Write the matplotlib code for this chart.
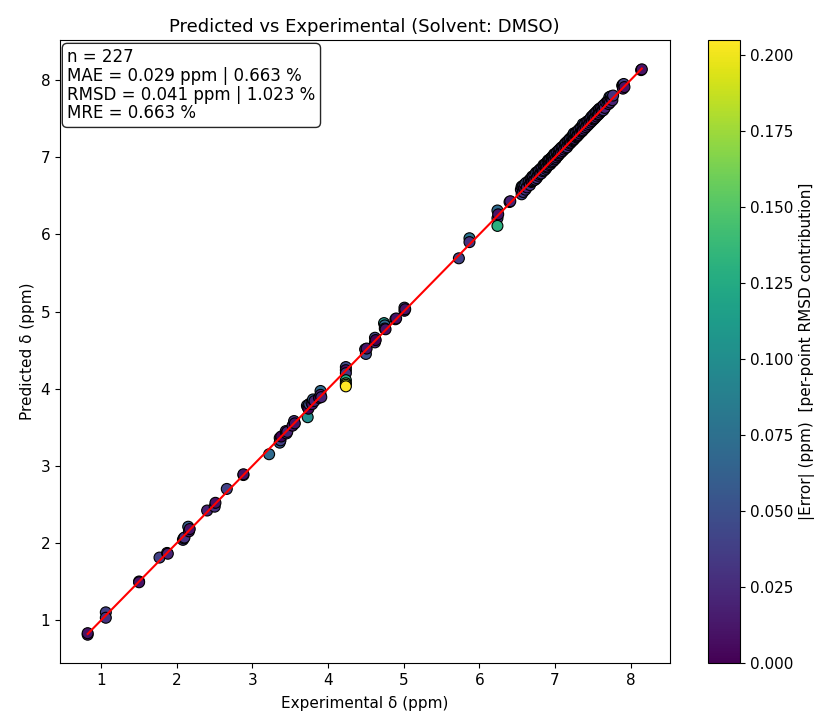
import matplotlib
matplotlib.use("Agg")
import matplotlib.pyplot as plt
import numpy as np

# experimental / predicted shifts (ppm)
exp_low = [0.82, 0.82, 1.06, 1.06, 1.50, 1.50, 1.77, 1.87, 1.88, 2.08, 2.09, 2.10, 2.15, 2.16, 2.17,
           2.40, 2.50, 2.51, 2.66, 2.88, 2.88]
pred_low = [0.81, 0.83, 1.10, 1.03, 1.50, 1.49, 1.81, 1.87, 1.86, 2.04, 2.06, 2.07, 2.21, 2.15, 2.18,
            2.42, 2.47, 2.52, 2.70, 2.88, 2.89]

exp_mid = [3.22, 3.36, 3.36, 3.37, 3.38, 3.44, 3.45, 3.46, 3.53, 3.55, 3.56, 3.72, 3.73, 3.73, 3.74,
           3.75, 3.78, 3.79, 3.80, 3.82, 3.88, 3.90, 3.90, 3.91]
pred_mid = [3.15, 3.36, 3.30, 3.33, 3.38, 3.45, 3.42, 3.44, 3.52, 3.58, 3.55, 3.78, 3.63, 3.76, 3.74,
            3.80, 3.82, 3.80, 3.86, 3.84, 3.88, 3.97, 3.92, 3.89]

exp_4 = [4.235, 4.235, 4.235, 4.235, 4.235, 4.235, 4.235, 4.49, 4.50, 4.51, 4.62, 4.62, 4.63, 4.74,
         4.75, 4.75, 4.76, 4.89, 4.90, 5.01, 5.01, 5.02]
pred_4 = [4.28, 4.24, 4.20, 4.11, 4.07, 4.05, 4.03, 4.51, 4.45, 4.52, 4.66, 4.60, 4.63, 4.85,
          4.82, 4.78, 4.77, 4.90, 4.91, 5.05, 5.01, 5.03]

exp_6 = [5.73, 5.87, 5.87, 6.24, 6.24, 6.24, 6.25, 6.40, 6.41]
pred_6 = [5.69, 5.95, 5.90, 6.31, 6.21, 6.11, 6.26, 6.42, 6.43]

exp_ar = [6.55, 6.56, 6.56, 6.57, 6.58, 6.58, 6.59, 6.60, 6.61, 6.62, 6.63, 6.65, 6.66, 6.67, 6.68,
          6.69, 6.70, 6.70, 6.71, 6.72,
          6.73, 6.74, 6.75, 6.76, 6.77, 6.78, 6.79, 6.80, 6.81, 6.82, 6.83, 6.84, 6.85, 6.86, 6.86,
          6.87, 6.88, 6.88, 6.89, 6.90, 6.90, 6.91, 6.92, 6.92, 6.93, 6.94, 6.94, 6.95, 6.96, 6.96,
          6.97, 6.98, 6.98, 6.99, 6.99,
          7.00, 7.01, 7.02, 7.02, 7.03, 7.04, 7.05, 7.05, 7.06, 7.07, 7.08, 7.09, 7.10, 7.11, 7.12,
          7.13, 7.14, 7.14, 7.15, 7.16, 7.17, 7.18, 7.19, 7.20, 7.20, 7.21, 7.22, 7.23, 7.24, 7.24,
          7.25, 7.25, 7.26, 7.27, 7.28, 7.28, 7.29, 7.30, 7.30, 7.31,
          7.32, 7.33, 7.34, 7.35, 7.35, 7.36, 7.37, 7.37, 7.38, 7.39, 7.40, 7.41, 7.42, 7.43, 7.44,
          7.45, 7.46, 7.47, 7.48, 7.49, 7.50, 7.51, 7.52, 7.52, 7.53, 7.54, 7.55, 7.56, 7.57, 7.58,
          7.58, 7.59, 7.60, 7.61, 7.62,
          7.63, 7.64, 7.65, 7.66, 7.68, 7.70, 7.71, 7.72, 7.72, 7.73, 7.74, 7.75, 7.76, 7.77, 7.89,
          7.90, 7.90, 7.91, 7.92, 8.14, 8.15]
pred_ar = [6.58, 6.62, 6.52, 6.61, 6.63, 6.55, 6.60, 6.65, 6.58, 6.67, 6.61, 6.68, 6.70, 6.64, 6.72,
           6.68, 6.75, 6.69, 6.74, 6.70,
           6.77, 6.71, 6.80, 6.73, 6.81, 6.76, 6.83, 6.78, 6.85, 6.79, 6.86, 6.82, 6.90, 6.83, 6.89,
           6.91, 6.85, 6.92, 6.87, 6.94, 6.88, 6.96, 6.90, 6.95, 6.97, 6.91, 6.98, 6.93, 7.00, 6.94,
           7.01, 6.95, 7.02, 6.97, 7.04,
           7.04, 6.98, 7.06, 7.00, 7.07, 7.02, 7.09, 7.03, 7.05, 7.11, 7.06, 7.13, 7.08, 7.14, 7.10,
           7.17, 7.12, 7.18, 7.19, 7.13, 7.21, 7.16, 7.23, 7.18, 7.24, 7.19, 7.26, 7.21, 7.29, 7.22,
           7.31, 7.23, 7.24, 7.31, 7.26, 7.32, 7.27, 7.34, 7.28, 7.29,
           7.36, 7.31, 7.38, 7.33, 7.39, 7.34, 7.43, 7.35, 7.41, 7.37, 7.44, 7.39, 7.46, 7.41, 7.47,
           7.43, 7.49, 7.45, 7.52, 7.47, 7.54, 7.49, 7.56, 7.50, 7.51, 7.58, 7.53, 7.60, 7.55, 7.62,
           7.56, 7.63, 7.58, 7.64, 7.60,
           7.66, 7.61, 7.68, 7.64, 7.71, 7.73, 7.69, 7.78, 7.74, 7.71, 7.79, 7.76, 7.74, 7.80, 7.93,
           7.94, 7.89, 7.95, 7.91, 8.13, 8.14]

experimental = np.array(exp_low + exp_mid + exp_4 + exp_6 + exp_ar)
predicted = np.array(pred_low + pred_mid + pred_4 + pred_6 + pred_ar)
abs_err = np.abs(predicted - experimental)

stats_text = "n = 227\nMAE = 0.029 ppm | 0.663 %\nRMSD = 0.041 ppm | 1.023 %\nMRE = 0.663 %"

fig = plt.figure(figsize=(8.26, 7.15), dpi=100)
ax = fig.add_axes([0.0726, 0.0727, 0.738, 0.871])
cax = fig.add_axes([0.857, 0.0727, 0.039, 0.871])

sc = ax.scatter(experimental, predicted, c=abs_err, cmap='viridis', vmin=0, vmax=abs_err.max(),
                s=62, edgecolors='black', linewidths=0.8)
lo, hi = experimental.min(), experimental.max()
ax.plot([lo, hi], [lo, hi], 'r-', linewidth=1.5)

ax.set_title('Predicted vs Experimental (Solvent: DMSO)', fontsize=13)
ax.set_xlabel('Experimental δ (ppm)', fontsize=11, labelpad=6)
ax.set_ylabel('Predicted δ (ppm)', fontsize=11)
ax.tick_params(labelsize=11)

ax.text(0.012, 0.987, stats_text, transform=ax.transAxes, va='top', ha='left', fontsize=12,
        linespacing=1.05,
        bbox=dict(boxstyle='round,pad=0.3', facecolor='white', edgecolor='black', alpha=0.85))

cb = fig.colorbar(sc, cax=cax)
cb.set_label('|Error| (ppm)  [per-point RMSD contribution]', fontsize=11)
cb.ax.tick_params(labelsize=11)

plt.savefig('out.png')
